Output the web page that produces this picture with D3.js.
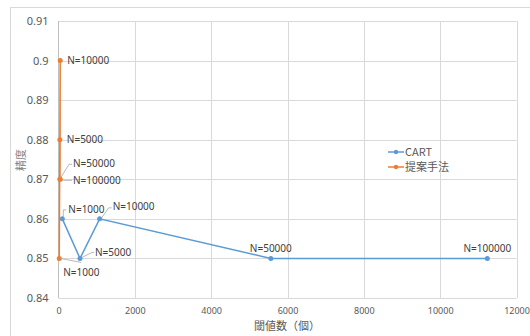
<!DOCTYPE html>
<html><head><meta charset="utf-8">
<script src="https://cdn.jsdelivr.net/npm/d3@7"></script>
<style>
body{margin:0;background:#fff;}
text{font-family:"Noto Sans CJK JP","Noto Sans",sans-serif;}
</style></head>
<body><svg id="c" width="530" height="336"></svg>
<script>
const nLabels = ["N=1000","N=5000","N=10000","N=50000","N=100000"];
const cartX = [100, 563, 1078, 5563, 11236];
const cartY = [0.86, 0.85, 0.86, 0.85, 0.85];
const propX = [20, 35, 45, 40, 40];
const propY = [0.85, 0.88, 0.90, 0.87, 0.87];
const xTicks = [0,2000,4000,6000,8000,10000,12000];
const yTicks = [0.84,0.85,0.86,0.87,0.88,0.89,0.90,0.91];
const seriesNames = ["CART","提案手法"];
const colors = ["#5b9bd5","#ed7d31"];

const svg = d3.select("#c");
svg.append("rect").attr("x",10.5).attr("y",7.5).attr("width",530).attr("height",340)
  .attr("fill","none").attr("stroke","#d9d9d9");

const x = d3.scaleLinear().domain([0,12000]).range([58.5,516.5]);
const y = d3.scaleLinear().domain([0.84,0.91]).range([298,21]);

svg.append("g").selectAll("line").data(yTicks).join("line")
  .attr("x1",x(0)).attr("x2",x(12000)).attr("y1",d=>Math.round(y(d))+0.5).attr("y2",d=>Math.round(y(d))+0.5)
  .attr("stroke","#d9d9d9");
svg.append("g").selectAll("line").data(xTicks.slice(1)).join("line")
  .attr("y1",y(0.84)).attr("y2",y(0.91)).attr("x1",d=>Math.round(x(d))+0.5).attr("x2",d=>Math.round(x(d))+0.5)
  .attr("stroke","#d9d9d9");
svg.append("line").attr("x1",58.5).attr("x2",58.5).attr("y1",y(0.84)).attr("y2",y(0.91)).attr("stroke","#bfbfbf");

const yAxis = d3.axisLeft(y).tickValues(yTicks).tickSize(0).tickPadding(10).tickFormat(d=>String(+d.toFixed(2)));
const gy = svg.append("g").attr("transform","translate(58.5,0)").call(yAxis);
gy.select(".domain").remove();
gy.selectAll("text").attr("fill","#595959").style("font-size","11px").style("font-family","'Noto Sans',sans-serif");
const xAxis = d3.axisBottom(x).tickValues(xTicks).tickSize(0).tickPadding(10).tickFormat(d=>String(d));
const gx = svg.append("g").attr("transform","translate(0,298)").call(xAxis);
gx.select(".domain").remove();
gx.selectAll("text").attr("fill","#595959").style("font-size","9px").style("font-family","'Noto Sans',sans-serif");

svg.append("text").attr("x",287).attr("y",330).attr("text-anchor","middle").attr("fill","#595959")
  .style("font-size","11px").text("閾値数（個）");
svg.append("text").attr("transform","translate(25,160) rotate(-90)").attr("text-anchor","middle").attr("fill","#7f7f7f")
  .style("font-size","11px").text("精度");

const line = d3.line().x(d=>x(d[0])).y(d=>y(d[1]));
const cart = cartX.map((v,i)=>[v,cartY[i]]);
const prop = propX.map((v,i)=>[v,propY[i]]);
[cart,prop].forEach((data,k)=>{
  svg.append("path").datum(data).attr("d",line).attr("fill","none").attr("stroke",colors[k]).attr("stroke-width",1.5);
  svg.append("g").selectAll("circle").data(data).join("circle")
    .attr("cx",d=>x(d[0])).attr("cy",d=>y(d[1])).attr("r",2.5).attr("fill",colors[k]);
});

const cartLab = [
  {dx:6, dy:-9, a:"start", lead:[[1,-2],[1,-9],[4,-9]]},
  {dx:15, dy:-6, a:"start", lead:[[2,-1],[12,-6],[14,-6]]},
  {dx:13, dy:-12, a:"start", lead:[[2,-1],[9,-11],[12,-11]]},
  {dx:0, dy:-10, a:"middle", lead:null},
  {dx:0, dy:-10, a:"middle", lead:null}
];
const propLab = [
  {dx:4, dy:14, a:"start", lead:[[1,0],[22,4]]},
  {dx:7, dy:0, a:"start", lead:null},
  {dx:7, dy:0, a:"start", lead:null},
  {dx:13, dy:-16, a:"start", lead:[[1,-2],[9,-15],[12,-15]]},
  {dx:13, dy:1, a:"start", lead:[[2,1],[12,1]]}
];
function drawLabels(data, labs){
  data.forEach((d,i)=>{
    const px=x(d[0]), py=y(d[1]), L=labs[i];
    if(L.lead){
      svg.append("polyline").attr("points",L.lead.map(p=>(px+p[0])+","+(py+p[1])).join(" "))
        .attr("fill","none").attr("stroke","#a6a6a6").attr("stroke-width",0.8);
    }
    svg.append("text").attr("x",px+L.dx).attr("y",py+L.dy).attr("dy","0.35em").attr("text-anchor",L.a)
      .attr("fill","#404040").style("font-size","10px").style("font-family","'Noto Sans',sans-serif").text(nLabels[i]);
  });
}
drawLabels(cart,cartLab);
drawLabels(prop,propLab);

const lg = svg.append("g").attr("transform","translate(388,152)");
seriesNames.forEach((n,i)=>{
  const g = lg.append("g").attr("transform",`translate(0,${i*15})`);
  g.append("line").attr("x1",0).attr("x2",16).attr("stroke",colors[i]).attr("stroke-width",1.5);
  g.append("circle").attr("cx",8).attr("r",2.2).attr("fill",colors[i]);
  g.append("text").attr("x",17).attr("dy","0.35em").attr("fill","#595959").style("font-size","11px").text(n);
});
</script></body></html>
